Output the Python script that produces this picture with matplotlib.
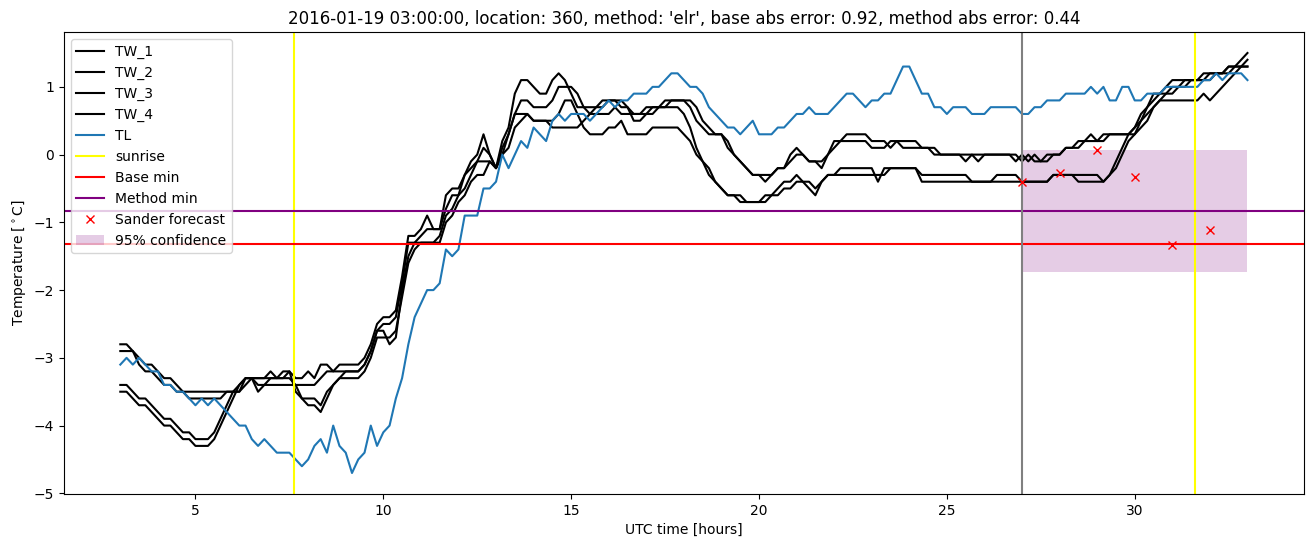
import numpy as np
import matplotlib
matplotlib.use("Agg")
import matplotlib.pyplot as plt

# time axis: 10-minute steps from 03:00 to 33:00 (hours since 2016-01-19 00 UTC)
t = 3 + np.arange(181) / 6.0

TL = [
    -3.1, -3.0, -3.1, -3.0, -3.1, -3.2,
    -3.2, -3.4, -3.4, -3.5, -3.5, -3.6,
    -3.7, -3.6, -3.7, -3.6, -3.7, -3.8,
    -3.9, -4.0, -4.0, -4.2, -4.3, -4.2,
    -4.3, -4.4, -4.4, -4.4, -4.5, -4.6,
    -4.5, -4.3, -4.2, -4.4, -4.0, -4.3,
    -4.4, -4.7, -4.5, -4.4, -4.0, -4.3,
    -4.1, -4.0, -3.6, -3.3, -2.8, -2.4,
    -2.2, -2.0, -2.0, -1.9, -1.4, -1.5,
    -1.4, -0.9, -0.9, -0.9, -0.5, -0.5,
    -0.4, 0.0, -0.2, 0.0, 0.2, 0.1,
    0.4, 0.3, 0.2, 0.5, 0.6, 0.5,
    0.6, 0.6, 0.6, 0.5, 0.6, 0.7,
    0.8, 0.7, 0.8, 0.8, 0.9, 0.9,
    0.9, 1.0, 1.0, 1.1, 1.2, 1.2,
    1.1, 1.0, 1.0, 0.9, 0.7, 0.6,
    0.5, 0.4, 0.4, 0.3, 0.4, 0.5,
    0.3, 0.3, 0.3, 0.4, 0.4, 0.5,
    0.6, 0.6, 0.7, 0.6, 0.6, 0.6,
    0.7, 0.8, 0.9, 0.9, 0.8, 0.7,
    0.8, 0.8, 0.9, 0.9, 1.1, 1.3,
    1.3, 1.1, 0.9, 0.9, 0.7, 0.7,
    0.6, 0.7, 0.7, 0.7, 0.6, 0.6,
    0.6, 0.7, 0.7, 0.7, 0.7, 0.7,
    0.6, 0.6, 0.7, 0.7, 0.8, 0.8,
    0.8, 0.9, 0.9, 0.9, 0.9, 1.0,
    0.9, 1.0, 0.8, 0.8, 1.0, 1.0,
    0.8, 0.8, 0.9, 0.9, 0.9, 1.0,
    1.0, 1.0, 1.0, 1.0, 1.0, 1.1,
    1.1, 1.2, 1.1, 1.2, 1.2, 1.2,
    1.1,
]

TW_1 = [
    -2.8, -2.8, -2.9, -3.0, -3.1, -3.1,
    -3.2, -3.3, -3.3, -3.4, -3.5, -3.5,
    -3.5, -3.5, -3.5, -3.5, -3.5, -3.5,
    -3.5, -3.5, -3.4, -3.3, -3.3, -3.3,
    -3.2, -3.3, -3.2, -3.2, -3.3, -3.3,
    -3.2, -3.3, -3.1, -3.1, -3.2, -3.1,
    -3.1, -3.1, -3.1, -3.0, -2.8, -2.5,
    -2.4, -2.4, -2.3, -1.8, -1.2, -1.2,
    -1.1, -0.9, -1.1, -1.1, -0.6, -0.5,
    -0.5, -0.3, -0.1, 0.0, 0.3, 0.0,
    -0.2, 0.2, 0.4, 0.9, 1.1, 1.1,
    1.0, 0.9, 0.9, 1.1, 1.2, 1.1,
    0.9, 0.7, 0.7, 0.6, 0.7, 0.8,
    0.8, 0.8, 0.8, 0.7, 0.5, 0.5,
    0.6, 0.7, 0.7, 0.7, 0.8, 0.8,
    0.8, 0.7, 0.5, 0.4, 0.3, 0.3,
    0.3, 0.1, 0.0, -0.1, -0.2, -0.3,
    -0.3, -0.4, -0.3, -0.2, -0.2, 0.0,
    0.1, 0.0, -0.1, -0.1, -0.2, 0.0,
    0.1, 0.2, 0.3, 0.3, 0.3, 0.3,
    0.2, 0.2, 0.2, 0.1, 0.2, 0.2,
    0.2, 0.2, 0.1, 0.1, 0.1, 0.0,
    0.0, 0.0, 0.0, 0.0, 0.0, 0.0,
    0.0, 0.0, 0.0, 0.0, 0.0, 0.0,
    -0.1, 0.0, -0.1, -0.1, -0.1, 0.0,
    0.0, 0.1, 0.1, 0.2, 0.2, 0.3,
    0.2, 0.3, 0.3, 0.3, 0.3, 0.3,
    0.4, 0.5, 0.7, 0.8, 0.9, 0.9,
    1.0, 1.0, 1.1, 1.1, 1.1, 1.1,
    1.1, 1.2, 1.2, 1.3, 1.3, 1.4,
    1.5,
]

TW_2 = [
    -2.9, -2.9, -2.9, -3.1, -3.2, -3.2,
    -3.3, -3.4, -3.4, -3.5, -3.5, -3.6,
    -3.6, -3.6, -3.6, -3.6, -3.6, -3.5,
    -3.5, -3.5, -3.3, -3.3, -3.5, -3.4,
    -3.3, -3.3, -3.3, -3.3, -3.4, -3.4,
    -3.4, -3.4, -3.3, -3.2, -3.2, -3.2,
    -3.2, -3.2, -3.2, -3.1, -2.9, -2.6,
    -2.5, -2.5, -2.4, -1.9, -1.3, -1.3,
    -1.2, -1.1, -1.1, -1.1, -0.8, -0.6,
    -0.6, -0.3, -0.2, -0.1, 0.1, 0.0,
    -0.2, 0.1, 0.3, 0.6, 0.8, 0.8,
    0.7, 0.7, 0.7, 0.8, 1.0, 1.0,
    1.0, 0.9, 0.7, 0.7, 0.7, 0.7,
    0.8, 0.8, 0.7, 0.7, 0.6, 0.6,
    0.7, 0.7, 0.7, 0.8, 0.8, 0.8,
    0.8, 0.8, 0.7, 0.5, 0.4, 0.3,
    0.3, 0.2, 0.0, -0.1, -0.2, -0.3,
    -0.3, -0.3, -0.3, -0.2, -0.2, -0.1,
    0.0, 0.0, -0.1, -0.1, -0.1, 0.0,
    0.2, 0.2, 0.2, 0.2, 0.2, 0.2,
    0.1, 0.1, 0.1, 0.2, 0.2, 0.1,
    0.1, 0.1, 0.1, 0.1, 0.0, 0.0,
    0.0, 0.0, 0.0, -0.1, 0.0, -0.1,
    0.0, 0.0, 0.0, 0.0, 0.0, -0.1,
    0.0, -0.1, 0.0, -0.1, 0.0, 0.0,
    0.0, 0.1, 0.1, 0.1, 0.2, 0.2,
    0.2, 0.2, 0.3, 0.3, 0.3, 0.3,
    0.3, 0.4, 0.5, 0.7, 0.8, 0.9,
    0.9, 1.0, 1.0, 1.1, 1.1, 1.1,
    1.2, 1.2, 1.2, 1.2, 1.3, 1.3,
    1.4,
]

TW_3 = [
    -3.4, -3.4, -3.5, -3.6, -3.6, -3.7,
    -3.8, -3.9, -3.9, -4.0, -4.1, -4.1,
    -4.2, -4.2, -4.2, -4.1, -3.9, -3.7,
    -3.5, -3.4, -3.3, -3.3, -3.3, -3.3,
    -3.3, -3.3, -3.3, -3.2, -3.5, -3.6,
    -3.7, -3.7, -3.8, -3.6, -3.4, -3.3,
    -3.2, -3.2, -3.2, -3.1, -2.9, -2.6,
    -2.6, -2.8, -2.7, -2.0, -1.5, -1.3,
    -1.3, -1.3, -1.3, -1.2, -0.9, -0.8,
    -0.6, -0.5, -0.3, -0.1, -0.1, -0.1,
    -0.2, 0.0, 0.3, 0.6, 0.6, 0.6,
    0.5, 0.5, 0.5, 0.5, 0.6, 0.8,
    0.8, 0.6, 0.4, 0.3, 0.3, 0.3,
    0.4, 0.4, 0.5, 0.3, 0.3, 0.3,
    0.3, 0.4, 0.4, 0.4, 0.4, 0.4,
    0.3, 0.2, 0.0, -0.1, -0.2, -0.4,
    -0.5, -0.6, -0.6, -0.7, -0.7, -0.7,
    -0.7, -0.6, -0.6, -0.5, -0.4, -0.4,
    -0.3, -0.4, -0.4, -0.5, -0.4, -0.3,
    -0.3, -0.2, -0.2, -0.2, -0.2, -0.2,
    -0.2, -0.4, -0.2, -0.2, -0.2, -0.2,
    -0.2, -0.2, -0.3, -0.3, -0.3, -0.3,
    -0.3, -0.3, -0.3, -0.3, -0.4, -0.4,
    -0.4, -0.4, -0.3, -0.3, -0.3, -0.3,
    -0.4, -0.4, -0.4, -0.4, -0.4, -0.3,
    -0.3, -0.3, -0.3, -0.4, -0.4, -0.4,
    -0.4, -0.4, -0.3, -0.1, 0.1, 0.3,
    0.4, 0.6, 0.7, 0.9, 0.9, 1.0,
    1.1, 1.1, 1.1, 1.1, 1.1, 1.2,
    1.2, 1.2, 1.2, 1.3, 1.3, 1.3,
    1.3,
]

TW_4 = [
    -3.5, -3.5, -3.6, -3.7, -3.7, -3.8,
    -3.9, -4.0, -4.0, -4.1, -4.2, -4.2,
    -4.3, -4.3, -4.3, -4.2, -4.0, -3.8,
    -3.6, -3.4, -3.3, -3.3, -3.4, -3.4,
    -3.4, -3.4, -3.4, -3.4, -3.4, -3.6,
    -3.6, -3.6, -3.7, -3.5, -3.4, -3.3,
    -3.3, -3.3, -3.3, -3.2, -3.0, -2.7,
    -2.7, -2.7, -2.6, -2.1, -1.6, -1.4,
    -1.3, -1.3, -1.3, -1.3, -1.0, -0.9,
    -0.7, -0.6, -0.4, -0.3, -0.3, -0.1,
    -0.2, 0.0, 0.1, 0.4, 0.5, 0.6,
    0.5, 0.5, 0.5, 0.4, 0.4, 0.4,
    0.4, 0.4, 0.5, 0.6, 0.6, 0.6,
    0.6, 0.7, 0.6, 0.6, 0.6, 0.6,
    0.6, 0.6, 0.7, 0.7, 0.7, 0.7,
    0.6, 0.4, 0.1, -0.1, -0.3, -0.4,
    -0.5, -0.6, -0.6, -0.6, -0.7, -0.7,
    -0.7, -0.7, -0.6, -0.6, -0.5, -0.5,
    -0.4, -0.4, -0.5, -0.6, -0.4, -0.3,
    -0.3, -0.3, -0.3, -0.3, -0.3, -0.3,
    -0.3, -0.3, -0.3, -0.2, -0.2, -0.2,
    -0.2, -0.2, -0.4, -0.4, -0.4, -0.4,
    -0.4, -0.4, -0.4, -0.4, -0.4, -0.4,
    -0.4, -0.4, -0.4, -0.4, -0.4, -0.4,
    -0.4, -0.4, -0.4, -0.4, -0.4, -0.3,
    -0.3, -0.3, -0.3, -0.3, -0.3, -0.3,
    -0.3, -0.4, -0.3, -0.2, 0.0, 0.2,
    0.3, 0.5, 0.6, 0.7, 0.8, 0.8,
    0.8, 0.8, 0.8, 0.8, 0.8, 0.9,
    0.8, 0.9, 1.0, 1.1, 1.2, 1.3,
    1.3,
]

tw_series = [TW_1, TW_2, TW_3, TW_4]
tw_labels = ["TW_1", "TW_2", "TW_3", "TW_4"]

sunrise_times = [7.62, 31.6]
forecast_time = 27.0
base_min = -1.32
method_min = -0.83
sander_times = [27, 28, 29, 30, 31, 32]
sander_values = [-0.41, -0.27, 0.07, -0.33, -1.33, -1.11]
conf_span = [27, 33]
conf_low = -1.74
conf_high = 0.07

title = ("2016-01-19 03:00:00, location: 360, method: 'elr', "
         "base abs error: 0.92, method abs error: 0.44")

fig = plt.figure(figsize=(13.13, 5.47), dpi=100)
ax = fig.add_axes([0.0487, 0.0969, 0.9443, 0.8446])

for vals, lab in zip(tw_series, tw_labels):
    ax.plot(t, vals, color="black", label=lab)
ax.plot(t, TL, color="#1f77b4", label="TL")
for i, s in enumerate(sunrise_times):
    ax.axvline(s, color="yellow", label="sunrise" if i == 0 else None)
ax.axhline(base_min, color="red", label="Base min")
ax.axhline(method_min, color="purple", label="Method min")
ax.axvline(forecast_time, color="gray")
ax.plot(sander_times, sander_values, "x", color="red", linestyle="none",
        label="Sander forecast")
ax.fill_between(conf_span, [conf_low] * 2, [conf_high] * 2, color="purple",
                alpha=0.2, linewidth=0, label="95% confidence")

ax.set_title(title)
ax.set_xlabel("UTC time [hours]")
ax.set_ylabel(r"Temperature [$^\circ$C]")
ax.legend(loc="upper left")

fig.savefig("out.png", dpi=100)
